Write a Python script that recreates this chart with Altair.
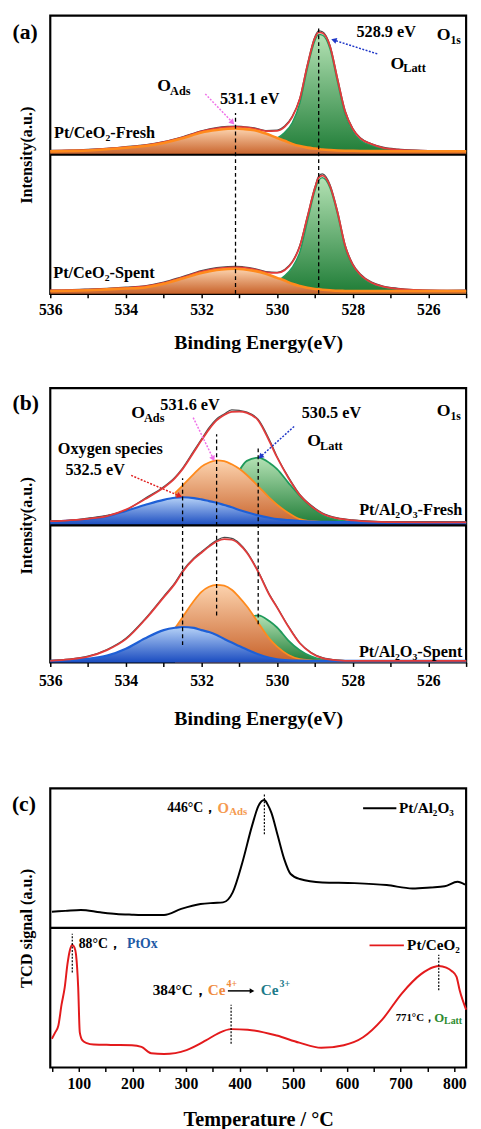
import math
import altair as alt
import pandas as pd

FONT = "Liberation Serif"

# ---------------- tick values ----------------
BE_TICKS = [536, 535, 534, 533, 532, 531, 530, 529, 528, 527, 526, 525]
T_TICKS = [50, 100, 150, 200, 250, 300, 350, 400, 450, 500, 550, 600, 650, 700, 750, 800]

# ---------------- panel (a): Pt/CeO2 O1s ----------------
E_A = [536.0, 535.5, 535.0, 534.5, 534.0, 533.5, 533.0, 532.5, 532.0, 531.6, 531.3, 531.1,
       530.9, 530.6, 530.3, 530.0, 529.8, 529.6, 529.4, 529.2, 529.0, 528.9, 528.8, 528.6,
       528.4, 528.2, 528.0, 527.8, 527.5, 527.2, 526.8, 526.4, 526.0, 525.5, 525.0]
E_A_LATT = [530.0, 529.8, 529.6, 529.4, 529.2, 529.0, 528.9, 528.8, 528.6, 528.4, 528.2,
            528.0, 527.8, 527.5, 527.2, 526.8, 526.4, 526.0, 525.5, 525.0]

A_FRESH_ADS = [0.024, 0.027, 0.031, 0.039, 0.050, 0.062, 0.085, 0.118, 0.160, 0.178, 0.186, 0.188,
               0.185, 0.176, 0.152, 0.120, 0.100, 0.078, 0.062, 0.051, 0.044, 0.041, 0.038, 0.034,
               0.031, 0.029, 0.028, 0.027, 0.026, 0.026, 0.025, 0.025, 0.025, 0.025, 0.025]
A_FRESH_LATT = [0.12, 0.16, 0.23, 0.37, 0.62, 0.82, 0.865, 0.86, 0.76, 0.52, 0.29,
                0.17, 0.105, 0.068, 0.046, 0.035, 0.030, 0.027, 0.026, 0.025]
A_FRESH_FIT = [0.028, 0.031, 0.035, 0.043, 0.054, 0.067, 0.090, 0.124, 0.168, 0.190, 0.198, 0.200,
               0.198, 0.188, 0.170, 0.172, 0.200, 0.270, 0.400, 0.640, 0.840, 0.880, 0.875, 0.780,
               0.540, 0.310, 0.185, 0.118, 0.076, 0.050, 0.037, 0.031, 0.028, 0.027, 0.027]
A_FRESH_RAW = [0.031, 0.033, 0.038, 0.046, 0.058, 0.071, 0.094, 0.129, 0.172, 0.195, 0.203, 0.206,
               0.202, 0.193, 0.174, 0.177, 0.206, 0.276, 0.405, 0.648, 0.848, 0.890, 0.884, 0.786,
               0.548, 0.316, 0.190, 0.122, 0.079, 0.054, 0.040, 0.033, 0.030, 0.029, 0.029]

A_SPENT_ADS = [0.020, 0.022, 0.026, 0.032, 0.038, 0.046, 0.072, 0.110, 0.150, 0.171, 0.178, 0.180,
               0.177, 0.165, 0.145, 0.115, 0.096, 0.072, 0.056, 0.043, 0.035, 0.032, 0.030, 0.026,
               0.022, 0.021, 0.020, 0.020, 0.020, 0.020, 0.020, 0.020, 0.020, 0.020, 0.020]
A_SPENT_LATT = [0.09, 0.13, 0.19, 0.30, 0.52, 0.74, 0.815, 0.835, 0.76, 0.57, 0.33,
                0.20, 0.13, 0.075, 0.048, 0.033, 0.026, 0.023, 0.021, 0.020]
A_SPENT_FIT = [0.024, 0.026, 0.030, 0.036, 0.043, 0.053, 0.079, 0.118, 0.160, 0.182, 0.189, 0.191,
               0.188, 0.176, 0.155, 0.150, 0.170, 0.226, 0.340, 0.550, 0.760, 0.835, 0.850, 0.775,
               0.585, 0.345, 0.210, 0.138, 0.080, 0.052, 0.036, 0.028, 0.024, 0.023, 0.023]
A_SPENT_RAW = [0.027, 0.029, 0.034, 0.040, 0.048, 0.058, 0.084, 0.124, 0.166, 0.188, 0.196, 0.198,
               0.194, 0.182, 0.160, 0.155, 0.175, 0.232, 0.347, 0.556, 0.768, 0.846, 0.862, 0.784,
               0.592, 0.352, 0.216, 0.143, 0.084, 0.056, 0.040, 0.031, 0.027, 0.025, 0.026]

# ---------------- panel (b): Pt/Al2O3 O1s ----------------
E_B = [536.0, 535.5, 535.0, 534.5, 534.0, 533.5, 533.0, 532.7, 532.5, 532.2, 532.0, 531.8,
       531.6, 531.4, 531.2, 531.0, 530.8, 530.5, 530.2, 530.0, 529.7, 529.4, 529.1, 528.8,
       528.4, 528.0, 527.5, 527.0, 526.0, 525.0]
E_B_ADS = [532.7, 532.5, 532.2, 532.0, 531.8, 531.6, 531.4, 531.2, 531.0, 530.8, 530.5, 530.2,
           530.0, 529.7, 529.4, 529.1, 528.8, 528.4, 528.0, 527.5, 527.0, 526.0, 525.0]
E_B_LATT = [531.0, 530.8, 530.5, 530.2, 530.0, 529.7, 529.4, 529.1, 528.8, 528.4, 528.0,
            527.5, 527.0, 526.0, 525.0]

B_FRESH_SPEC = [0.028, 0.034, 0.046, 0.065, 0.105, 0.148, 0.186, 0.201, 0.205, 0.199, 0.189, 0.177,
                0.165, 0.148, 0.132, 0.112, 0.095, 0.073, 0.055, 0.045, 0.038, 0.032, 0.028, 0.026,
                0.024, 0.023, 0.022, 0.022, 0.022, 0.022]
B_FRESH_ADS = [0.235, 0.29, 0.375, 0.428, 0.458, 0.474, 0.468, 0.445, 0.412, 0.367, 0.285, 0.200,
               0.150, 0.090, 0.045, 0.030, 0.025, 0.023, 0.022, 0.022, 0.022, 0.022, 0.022]
B_FRESH_LATT = [0.40, 0.47, 0.493, 0.455, 0.41, 0.31, 0.215, 0.135, 0.075, 0.040, 0.028,
                0.023, 0.022, 0.022, 0.022]
B_FRESH_FIT = [0.030, 0.037, 0.048, 0.068, 0.115, 0.19, 0.275, 0.345, 0.41, 0.535, 0.62, 0.70,
               0.765, 0.805, 0.828, 0.83, 0.82, 0.765, 0.61, 0.495, 0.345, 0.22, 0.14, 0.085,
               0.05, 0.036, 0.027, 0.024, 0.022, 0.022]
B_FRESH_RAW = [0.033, 0.036, 0.052, 0.072, 0.112, 0.196, 0.281, 0.352, 0.418, 0.545, 0.628, 0.712,
               0.776, 0.812, 0.842, 0.838, 0.826, 0.772, 0.622, 0.500, 0.352, 0.226, 0.146, 0.090,
               0.054, 0.040, 0.030, 0.026, 0.025, 0.023]

B_SPENT_SPEC = [0.012, 0.018, 0.028, 0.050, 0.100, 0.175, 0.236, 0.253, 0.259, 0.252, 0.236, 0.222,
                0.200, 0.172, 0.145, 0.120, 0.095, 0.060, 0.035, 0.024, 0.016, 0.013, 0.012, 0.012,
                0.012, 0.012, 0.012, 0.012, 0.012, 0.012]
B_SPENT_ADS = [0.25, 0.33, 0.45, 0.515, 0.552, 0.566, 0.560, 0.530, 0.475, 0.41, 0.29, 0.172,
               0.115, 0.055, 0.025, 0.016, 0.013, 0.012, 0.012, 0.012, 0.012, 0.012, 0.012]
B_SPENT_LATT = [0.28, 0.32, 0.343, 0.30, 0.255, 0.16, 0.09, 0.045, 0.022, 0.014, 0.012,
                0.012, 0.012, 0.012, 0.012]
B_SPENT_FIT = [0.012, 0.022, 0.042, 0.09, 0.17, 0.31, 0.475, 0.575, 0.66, 0.755, 0.80, 0.845,
               0.882, 0.90, 0.895, 0.862, 0.80, 0.66, 0.49, 0.40, 0.26, 0.14, 0.07, 0.032,
               0.016, 0.012, 0.012, 0.012, 0.012, 0.012]
B_SPENT_RAW = [0.015, 0.024, 0.046, 0.094, 0.176, 0.316, 0.482, 0.582, 0.668, 0.762, 0.808, 0.852,
               0.890, 0.912, 0.905, 0.870, 0.806, 0.665, 0.495, 0.404, 0.264, 0.143, 0.073, 0.035,
               0.018, 0.014, 0.014, 0.013, 0.013, 0.013]

# ---------------- panel (c): H2-TPR ----------------
T_AL = [50, 75, 104, 140, 170, 199, 230, 259, 291, 327, 351, 369, 387, 405, 423, 435, 446, 452,
        459, 471, 483, 495, 512, 554, 614, 674, 722, 756, 782, 806, 820]
S_AL = [0.116, 0.122, 0.129, 0.112, 0.100, 0.095, 0.092, 0.093, 0.136, 0.171, 0.179, 0.183,
        0.255, 0.469, 0.731, 0.874, 0.916, 0.885, 0.826, 0.660, 0.493, 0.386, 0.350, 0.326,
        0.321, 0.307, 0.283, 0.290, 0.298, 0.331, 0.310]
T_CE = [50, 56, 62, 68, 74, 79, 83, 88, 92, 95, 99, 102, 107, 115, 128, 160, 199, 217, 235, 259,
        301, 337, 360, 384, 415, 469, 511, 552, 594, 630, 666, 702, 738, 762, 771, 785, 795, 804,
        810, 822]
S_CE = [0.206, 0.250, 0.299, 0.450, 0.576, 0.740, 0.831, 0.877, 0.860, 0.808, 0.576, 0.252,
        0.194, 0.175, 0.165, 0.162, 0.160, 0.148, 0.102, 0.097, 0.125, 0.194, 0.245, 0.275,
        0.271, 0.229, 0.178, 0.141, 0.160, 0.217, 0.345, 0.530, 0.669, 0.720, 0.727, 0.715,
        0.692, 0.651, 0.553, 0.415]

# ---------------- styling ----------------
W = 423
H_A, H_B, H_C = 283, 279, 284


def grad(top, bottom):
    return alt.Gradient(gradient="linear",
                        stops=[alt.GradientStop(color=top, offset=0),
                               alt.GradientStop(color=bottom, offset=1)],
                        x1=1, x2=1, y1=0, y2=1)


ORANGE_FILL = grad("#fcd3ae", "#c8622a")
GREEN_FILL = grad("#b4e2b4", "#1e7c36")
BLUE_FILL = grad("#b6d2f7", "#1a4cc0")
ORANGE_LINE = "#ff8a1c"
GREEN_LINE = "#1f9a5b"
BLUE_LINE = "#1e5fd6"
RED = "#e23b3b"
GRAY = "#4d4d4d"
ANN = 16.5  # annotation font size


class Panel:
    def __init__(self, domain, reverse, h, x_title, ticks, step, y_title, label_pad, title_pad, title_size):
        self.domain = domain
        self.reverse = reverse
        self.h = h
        self.xs = alt.Scale(domain=domain, reverse=reverse, nice=False, zero=False)
        self.ys = alt.Scale(domain=[0, 2], nice=False, zero=False)
        self.xa = alt.Axis(title=x_title, values=ticks,
                           labelExpr=f"datum.value % {step} == 0 ? datum.label : ''",
                           tickSize=4, tickWidth=1.5, tickColor="black", domain=False, grid=False,
                           labelFont=FONT, labelFontSize=16, labelFontWeight="bold", labelColor="black",
                           labelPadding=label_pad, labelFlush=False, labelOverlap=False,
                           titleFont=FONT, titleFontSize=title_size, titleFontWeight="bold",
                           titleColor="black", titlePadding=title_pad)
        self.ya = alt.Axis(title=y_title, labels=False, ticks=False, domain=False, grid=False,
                           titleFont=FONT, titleFontSize=16.5, titleFontWeight="bold", titleColor="black",
                           titleAngle=270, titleX=-24, titleY=h / 2, titleAlign="center",
                           titleBaseline="middle")
        self.layers = []

    def X(self, f):
        return alt.X(f, type="quantitative", scale=self.xs, axis=self.xa)

    def Y(self, f):
        return alt.Y(f, type="quantitative", scale=self.ys, axis=self.ya)

    def px(self, ddx, ddy):
        span = self.domain[1] - self.domain[0]
        sx = W / span * (-1 if self.reverse else 1)
        return ddx * sx, -ddy * self.h / 2

    def area(self, xs, vals, off, fill):
        df = pd.DataFrame({"x": xs, "v": [off + v for v in vals], "b": [off for _ in vals]})
        self.layers.append(alt.Chart(df).mark_area(color=fill, interpolate="monotone", opacity=1)
                           .encode(x=self.X("x"), y=self.Y("v"), y2=alt.Y2("b")))

    def line(self, xs, vals, off, color, width, dash=None):
        df = pd.DataFrame({"x": xs, "v": [off + v for v in vals]})
        kw = dict(color=color, strokeWidth=width, interpolate="monotone")
        if dash:
            kw["strokeDash"] = dash
        self.layers.append(alt.Chart(df).mark_line(**kw).encode(x=self.X("x"), y=self.Y("v")))

    def divider(self):
        df = pd.DataFrame({"v": [1]})
        self.layers.append(alt.Chart(df).mark_rule(color="black", strokeWidth=2.2)
                           .encode(y=self.Y("v")))

    def vline(self, x, y0, y1, dash, width=1.3):
        df = pd.DataFrame({"x": [x], "v": [y0], "v2": [y1]})
        self.layers.append(alt.Chart(df).mark_rule(color="black", strokeWidth=width, strokeDash=dash)
                           .encode(x=self.X("x"), y=self.Y("v"), y2=alt.Y2("v2")))

    def seg(self, x0, x1, y, color, width):
        df = pd.DataFrame({"x": [x0], "x2": [x1], "v": [y]})
        self.layers.append(alt.Chart(df).mark_rule(color=color, strokeWidth=width)
                           .encode(x=self.X("x"), x2=alt.X2("x2"), y=self.Y("v")))

    def arrow(self, x0, y0, x1, y1, color, dash=None, width=1.5, head=40):
        df = pd.DataFrame({"x": [x0], "v": [y0], "x2": [x1], "v2": [y1]})
        kw = dict(color=color, strokeWidth=width)
        if dash:
            kw["strokeDash"] = dash
        self.layers.append(alt.Chart(df).mark_rule(**kw)
                           .encode(x=self.X("x"), y=self.Y("v"), x2=alt.X2("x2"), y2=alt.Y2("v2")))
        dx, dy = self.px(x1 - x0, y1 - y0)
        ang = math.degrees(math.atan2(dx, -dy)) % 360
        hd = pd.DataFrame({"x": [x1], "v": [y1]})
        self.layers.append(alt.Chart(hd).mark_point(shape="triangle-up", filled=True, size=head,
                                                    angle=ang, color=color, opacity=1, strokeWidth=0)
                           .encode(x=self.X("x"), y=self.Y("v")))

    def text(self, x, y, s, size=ANN, color="black", dx=0, dy=0, align="left", weight="bold"):
        df = pd.DataFrame({"x": [x], "v": [y], "s": [s]})
        self.layers.append(alt.Chart(df).mark_text(align=align, baseline="middle", dx=dx, dy=dy,
                                                   font=FONT, fontSize=size, fontWeight=weight,
                                                   color=color)
                           .encode(x=self.X("x"), y=self.Y("v"), text="s:N"))

    def chart(self):
        return alt.layer(*self.layers).properties(width=W, height=self.h)


DASH = [4, 3]

# ---------------- build panel (a) ----------------
pa = Panel([525, 536], True, H_A, "Binding Energy(eV)", BE_TICKS, 2, "Intensity(a.u.)", 4, 15.5, 20)
for off, ads, latt, fit, raw in [(1, A_FRESH_ADS, A_FRESH_LATT, A_FRESH_FIT, A_FRESH_RAW),
                                 (0, A_SPENT_ADS, A_SPENT_LATT, A_SPENT_FIT, A_SPENT_RAW)]:
    pa.area(E_A_LATT, latt, off, GREEN_FILL)
    pa.line(E_A_LATT, latt, off, GREEN_LINE, 1.4)
    pa.area(E_A, ads, off, ORANGE_FILL)
    pa.line(E_A, raw, off, GRAY, 1.3)
    pa.line(E_A, fit, off, RED, 1.8)
    pa.line(E_A, ads, off, ORANGE_LINE, 2.6)
pa.divider()
pa.vline(531.1, 0.0, 1.30, DASH)
pa.vline(528.9, 0.0, 1.92, DASH)
pa.arrow(527.35, 1.725, 528.5, 1.824, "#2038c8", dash=[2, 1.5])
pa.arrow(531.9, 1.437, 531.18, 1.232, "#f070e8", dash=[2, 1.5])
pa.text(537.0, 1.88, "(a)", 22)
pa.text(527.9, 1.88, "528.9 eV")
pa.text(525.78, 1.86, "O", 18)
pa.text(525.78, 1.86, "1s", 12, dx=14, dy=5)
pa.text(527.0, 1.655, "O", 18)
pa.text(527.0, 1.655, "Latt", 12.5, dx=13, dy=5)
pa.text(533.17, 1.493, "O", 18)
pa.text(533.17, 1.493, "Ads", 12.5, dx=13, dy=5)
pa.text(531.51, 1.40, "531.1 eV")
pa.text(535.9, 1.155, "Pt/CeO₂-Fresh")
pa.text(535.92, 0.149, "Pt/CeO₂-Spent")

# ---------------- build panel (b) ----------------
pb = Panel([525, 536], True, H_B, "Binding Energy(eV)", BE_TICKS, 2, "Intensity(a.u.)", 6, 21.5, 20)
for off, spec, ads, latt, fit, raw in [(1, B_FRESH_SPEC, B_FRESH_ADS, B_FRESH_LATT, B_FRESH_FIT, B_FRESH_RAW),
                                       (0, B_SPENT_SPEC, B_SPENT_ADS, B_SPENT_LATT, B_SPENT_FIT, B_SPENT_RAW)]:
    pb.area(E_B_LATT, latt, off, GREEN_FILL)
    pb.line(E_B_LATT, latt, off, GREEN_LINE, 1.8)
    pb.area(E_B_ADS, ads, off, ORANGE_FILL)
    pb.line(E_B_ADS, ads, off, ORANGE_LINE, 1.8)
    pb.area(E_B, spec, off, BLUE_FILL)
    pb.line(E_B, spec, off, BLUE_LINE, 2.2)
    pb.line(E_B, raw, off, GRAY, 1.3)
    pb.line(E_B, fit, off, RED, 1.8)
pb.divider()
pb.vline(532.5, 0.127, 1.343, DASH)
pb.vline(531.6, 0.343, 1.664, DASH)
pb.vline(530.5, 0.278, 1.58, DASH)
pb.arrow(532.22, 1.786, 531.69, 1.486, "#f070e8", dash=[2, 1.5])
pb.arrow(529.55, 1.721, 530.44, 1.50, "#2038c8", dash=[2, 1.5])
pb.arrow(533.86, 1.364, 532.58, 1.214, "#e02020", dash=[2, 1.5])
pb.text(537.0, 1.893, "(b)", 22)
pb.text(525.78, 1.836, "O", 18)
pb.text(525.78, 1.836, "1s", 12, dx=14, dy=5)
pb.text(533.09, 1.879, "531.6 eV")
pb.text(533.86, 1.82, "O", 18)
pb.text(533.86, 1.82, "Ads", 12.5, dx=13, dy=5)
pb.text(529.35, 1.82, "530.5 eV")
pb.text(529.2, 1.614, "O", 18)
pb.text(529.2, 1.614, "Latt", 12.5, dx=13, dy=5)
pb.text(535.8, 1.557, "Oxygen species")
pb.text(535.6, 1.40, "532.5 eV")
pb.text(525.1, 1.114, "Pt/Al₂O₃-Fresh", align="right")
pb.text(525.1, 0.079, "Pt/Al₂O₃-Spent", align="right")

# ---------------- build panel (c) ----------------
pc = Panel([47, 822], False, H_C, "Temperature / °C", T_TICKS, 100, "TCD signal (a.u.)", 4, 19, 20.5)
pc.line(T_AL, S_AL, 1, "black", 2)
pc.line(T_CE, S_CE, 0, "#e31a1c", 2)
pc.divider()
DOT = [2, 1.5]
pc.vline(446, 1.671, 1.957, DOT, 1.2)
pc.vline(88, 0.68, 0.958, DOT, 1.2)
pc.vline(384, 0.171, 0.449, DOT, 1.2)
pc.vline(771, 0.553, 0.808, DOT, 1.2)
pc.text(-24.5, 1.886, "(c)", 22)
pc.text(265, 1.857, "446°C，", 14)
pc.text(358.6, 1.857, "O", 15, color="#f59a4f")
pc.text(358.6, 1.857, "Ads", 11, color="#f59a4f", dx=12, dy=4)
pc.seg(630, 692, 1.857, "black", 2)
pc.text(697, 1.857, "Pt/Al₂O₃", 15.5)
pc.seg(642, 706, 0.875, "#e31a1c", 2)
pc.text(712, 0.875, "Pt/CeO₂", 15.5)
pc.text(100, 0.882, "88°C，", 14)
pc.text(190, 0.882, "PtOx", 14, color="#1f5aa6")
pc.text(238, 0.556, "384°C，", 15.5)
pc.text(340.6, 0.556, "Ce", 15.5, color="#f08a3c")
pc.text(340.6, 0.556, "4+", 10, color="#f08a3c", dx=19, dy=-6)
pc.arrow(378, 0.549, 423, 0.549, "black", width=1.5, head=30)
pc.text(439.4, 0.556, "Ce", 15.5, color="#1d7b8a")
pc.text(439.4, 0.556, "3+", 10, color="#1d7b8a", dx=19, dy=-6)
pc.text(690.7, 0.354, "771°C，", 11)
pc.text(762.6, 0.354, "O", 13, color="#2e8b2e")
pc.text(762.6, 0.354, "Latt", 10, color="#2e8b2e", dx=10, dy=3)

chart = (
    alt.vconcat(alt.vconcat(pa.chart(), pb.chart(), spacing=33), pc.chart(), spacing=57)
    .properties(padding={"left": 2, "top": -4, "right": 0, "bottom": 0})
    .configure(font=FONT)
    .configure_view(stroke="black", strokeWidth=2.2)
)

chart.save("out.html", embed_options={"renderer": "svg", "actions": False})
